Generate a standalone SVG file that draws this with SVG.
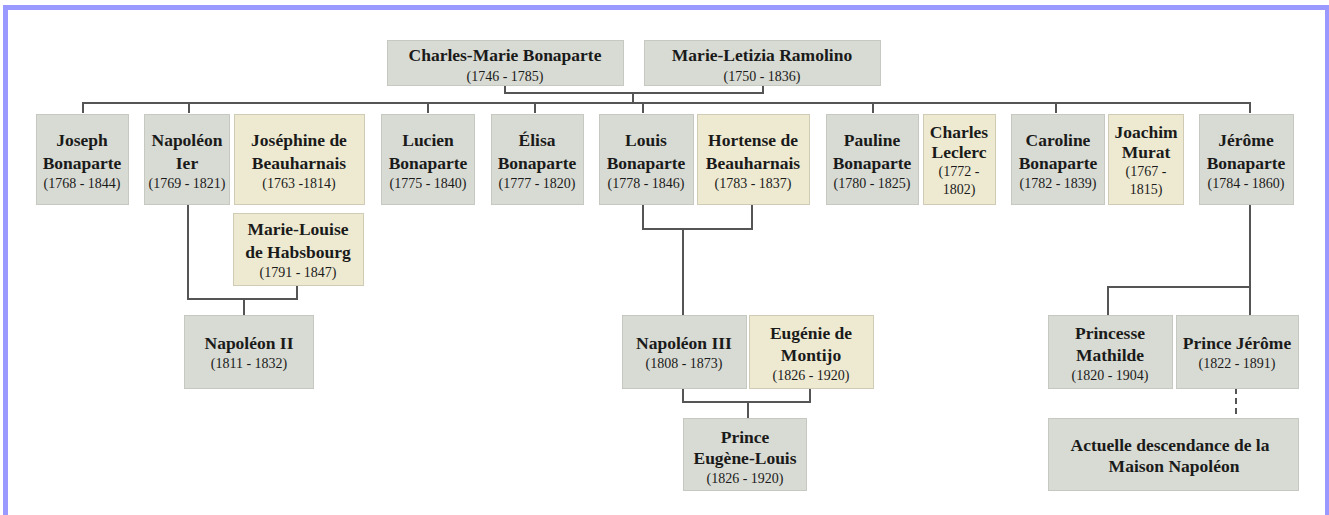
<svg xmlns="http://www.w3.org/2000/svg" width="1329" height="515" viewBox="0 0 1329 515">
<style>
.g{fill:#d8dbd3;stroke:#c6c9c1;stroke-width:1}
.b{fill:#eeead2;stroke:#cfcbb5;stroke-width:1}
text{font-family:"Liberation Serif","Times New Roman",serif;fill:#1a1a1a;text-anchor:middle}
.n{font-size:17.5px;font-weight:bold}
.d{font-size:14px}
.c line,.c path{stroke:#555;stroke-width:2;fill:none}
</style>
<rect x="0" y="0" width="1329" height="515" fill="#fff"/>
<rect x="5.5" y="7.5" width="1322" height="530" fill="none" stroke="#9999ff" stroke-width="5"/>
<g class="c" id="connectors">
<path d="M505 85V93H763V85M633 93V103"/>
<path d="M83 113V103H1250V113M189 103V113M428 103V113M535 103V113M643 103V113M873 103V113M1056 103V113"/>
<path d="M188 204V299H297V285M244 299V315"/>
<path d="M643 204V229H752V204M683 229V315"/>
<path d="M683 388V402H810V388M748 402V418"/>
<path d="M1250 204V315M1250 287H1108V315"/>
<line x1="1236" y1="388" x2="1236" y2="418" stroke-dasharray="6,4"/>
</g>
<g id="charles"><rect class="g" x="387.5" y="40.5" width="236" height="45"/><text class="n" x="505" y="61">Charles-Marie Bonaparte</text><text class="d" x="505" y="81">(1746 - 1785)</text></g>
<g id="letizia"><rect class="g" x="644.5" y="40.5" width="236" height="45"/><text class="n" x="762" y="61">Marie-Letizia Ramolino</text><text class="d" x="762" y="81">(1750 - 1836)</text></g>
<g id="joseph"><rect class="g" x="36.5" y="114.5" width="92" height="90"/><text class="n" x="82" y="146">Joseph</text><text class="n" x="82" y="169">Bonaparte</text><text class="d" x="82" y="188">(1768 - 1844)</text></g>
<g id="napoleon1"><rect class="g" x="144.5" y="114.5" width="85" height="90"/><text class="n" x="187" y="146">Napoléon</text><text class="n" x="187" y="169">Ier</text><text class="d" x="187" y="188">(1769 - 1821)</text></g>
<g id="josephine"><rect class="b" x="234.5" y="114.5" width="130" height="90"/><text class="n" x="299" y="146">Joséphine de</text><text class="n" x="299" y="169">Beauharnais</text><text class="d" x="299" y="188">(1763 -1814)</text></g>
<g id="lucien"><rect class="g" x="381.5" y="114.5" width="93" height="90"/><text class="n" x="428" y="146">Lucien</text><text class="n" x="428" y="169">Bonaparte</text><text class="d" x="428" y="188">(1775 - 1840)</text></g>
<g id="elisa"><rect class="g" x="491.5" y="114.5" width="92" height="90"/><text class="n" x="537" y="146">Élisa</text><text class="n" x="537" y="169">Bonaparte</text><text class="d" x="537" y="188">(1777 - 1820)</text></g>
<g id="louis"><rect class="g" x="599.5" y="114.5" width="94" height="90"/><text class="n" x="646" y="146">Louis</text><text class="n" x="646" y="169">Bonaparte</text><text class="d" x="646" y="188">(1778 - 1846)</text></g>
<g id="hortense"><rect class="b" x="697.5" y="114.5" width="112" height="90"/><text class="n" x="753" y="146">Hortense de</text><text class="n" x="753" y="169">Beauharnais</text><text class="d" x="753" y="188">(1783 - 1837)</text></g>
<g id="pauline"><rect class="g" x="826.5" y="114.5" width="92" height="90"/><text class="n" x="872" y="146">Pauline</text><text class="n" x="872" y="169">Bonaparte</text><text class="d" x="872" y="188">(1780 - 1825)</text></g>
<g id="leclerc"><rect class="b" x="923.5" y="114.5" width="72" height="90"/><text class="n" x="959" y="138">Charles</text><text class="n" x="959" y="158">Leclerc</text><text class="d" x="959" y="176">(1772 -</text><text class="d" x="959" y="194">1802)</text></g>
<g id="caroline"><rect class="g" x="1011.5" y="114.5" width="93" height="90"/><text class="n" x="1058" y="146">Caroline</text><text class="n" x="1058" y="169">Bonaparte</text><text class="d" x="1058" y="188">(1782 - 1839)</text></g>
<g id="murat"><rect class="b" x="1108.5" y="114.5" width="75" height="90"/><text class="n" x="1146" y="138">Joachim</text><text class="n" x="1146" y="158">Murat</text><text class="d" x="1146" y="176">(1767 -</text><text class="d" x="1146" y="194">1815)</text></g>
<g id="jerome"><rect class="g" x="1199.5" y="114.5" width="94" height="90"/><text class="n" x="1246" y="146">Jérôme</text><text class="n" x="1246" y="169">Bonaparte</text><text class="d" x="1246" y="188">(1784 - 1860)</text></g>
<g id="marielouise"><rect class="b" x="233.5" y="213.5" width="130" height="72"/><text class="n" x="298" y="235">Marie-Louise</text><text class="n" x="298" y="258">de Habsbourg</text><text class="d" x="298" y="277">(1791 - 1847)</text></g>
<g id="napoleon2"><rect class="g" x="184.5" y="315.5" width="129" height="73"/><text class="n" x="249" y="349">Napoléon II</text><text class="d" x="249" y="368">(1811 - 1832)</text></g>
<g id="napoleon3"><rect class="g" x="622.5" y="315.5" width="124" height="73"/><text class="n" x="684" y="349">Napoléon III</text><text class="d" x="684" y="368">(1808 - 1873)</text></g>
<g id="eugenie"><rect class="b" x="749.5" y="315.5" width="124" height="73"/><text class="n" x="811" y="339">Eugénie de</text><text class="n" x="811" y="361">Montijo</text><text class="d" x="811" y="380">(1826 - 1920)</text></g>
<g id="eugenelouis"><rect class="g" x="683.5" y="418.5" width="123" height="72"/><text class="n" x="745" y="443">Prince</text><text class="n" x="745" y="464">Eugène-Louis</text><text class="d" x="745" y="483">(1826 - 1920)</text></g>
<g id="mathilde"><rect class="g" x="1048.5" y="315.5" width="124" height="73"/><text class="n" x="1110" y="339">Princesse</text><text class="n" x="1110" y="361">Mathilde</text><text class="d" x="1110" y="380">(1820 - 1904)</text></g>
<g id="princejerome"><rect class="g" x="1176.5" y="315.5" width="122" height="73"/><text class="n" x="1237" y="349">Prince Jérôme</text><text class="d" x="1237" y="368">(1822 - 1891)</text></g>
<g id="descendance"><rect class="g" x="1048.5" y="418.5" width="250" height="72"/><text class="n" x="1170" y="451">Actuelle descendance de la</text><text class="n" x="1174" y="472">Maison Napoléon</text></g>
</svg>
